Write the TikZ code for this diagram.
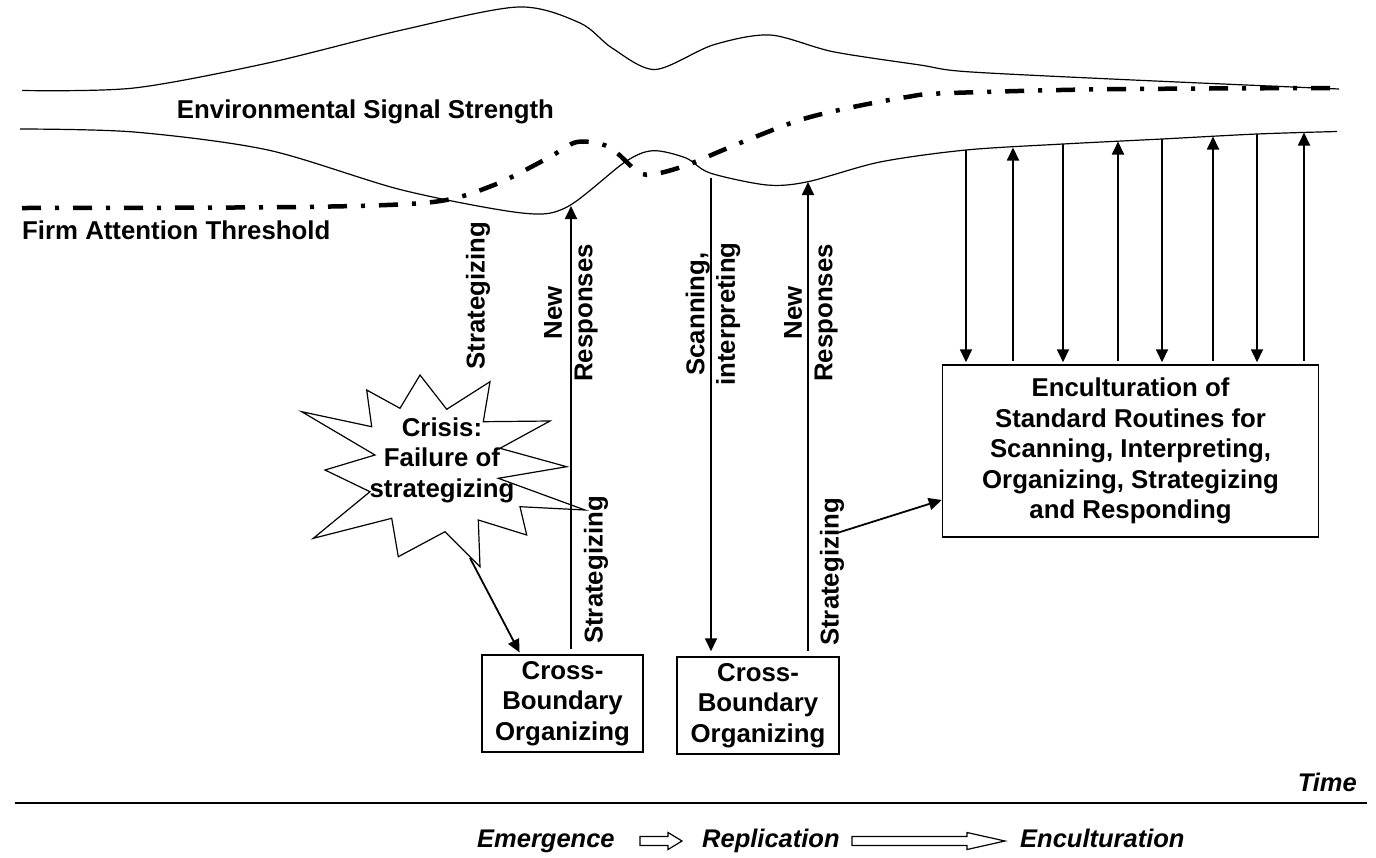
\documentclass[tikz,border=0pt]{standalone}
\usepackage{fontspec}
\setmainfont{Liberation Sans}
\usetikzlibrary{arrows.meta,positioning}

\tikzset{
  txt/.style={font=\fontsize{25.8}{30.5}\selectfont\bfseries, align=center, inner sep=0pt},
  era/.style={font=\fontsize{25.5}{30}\selectfont\bfseries\itshape, inner sep=0pt},
  curve/.style={line width=1.2pt},
  threshold/.style={line width=4.5pt, dash pattern=on 19pt off 14pt on 4pt off 14pt},
  box/.style={draw, line width=1.5pt},
  arr/.style={line width=1.8pt, -{Triangle[length=13pt,width=12pt]}},
}

\begin{document}
\begin{tikzpicture}[x=1pt,y=-1pt]
\useasboundingbox (0,0) rectangle (1376,857);
% Signal band
\draw[curve] plot[smooth] coordinates {(22,90.5) (134,88) (268,63) (402,30) (518,7) (580,23) (612,48) (655,69.5) (713,45) (770,35) (833,51.7) (920,65) (967,71.7) (1133,80) (1339,89)}; % upper edge
\draw[curve] plot[smooth] coordinates {(20,129) (134,132) (268,150) (402,190) (522,213) (567,207) (625,162) (653,150.7) (686,158) (710,173) (767,185) (808,181.7) (880,162) (966,150) (1063,144) (1162,139) (1257,134) (1337,131.5)}; % lower edge
% Threshold
\draw[threshold] plot[smooth] coordinates {(22,208) (300,207) (433,202) (494,185) (548,158) (577,142) (609,147) (638,172) (655,174) (687,165) (740,143) (800,120) (853,107) (907,97) (943,93.3) (1100,89.3) (1330,88)};
\node[txt, anchor=base] (signal) at (365.5,118.5) {Environmental Signal Strength};
\node[txt, anchor=base west] (thres) at (22,239.5) {Firm Attention Threshold};
% Crisis
\draw[curve, fill=white] (420,375) -- (446.7,409.3) -- (490,381.7) -- (483.3,421.7) -- (550,421) -- (500,448.3) -- (566.7,466.7) -- (498.3,478.3) -- (585,510) -- (520,506.7) -- (526.7,535) -- (478.3,520) -- (480,566.7) -- (445,531.7) -- (398.3,556.7) -- (391.7,518.3) -- (313.3,538.3) -- (370,491.7) -- (325,470) -- (375,455) -- (301.7,411.7) -- (371.7,426.7) -- (366.7,390) -- (400,408.3) -- cycle;
\node[txt] (crisis) at (442,460) {Crisis:\\Failure of\\strategizing};
\coordinate (crisis tip) at (470,558);
% Boxes
\node[box, txt, minimum width=161pt, minimum height=97pt] (cb1) at (562.5,703.5) {Cross-\\Boundary\\Organizing};
\node[box, txt, minimum width=162pt, minimum height=97pt] (cb2) at (758,705.5) {Cross-\\Boundary\\Organizing};
\node[box, txt, minimum width=376pt, minimum height=172pt] (encult box) at (1130.5,451) {Enculturation of\\Standard Routines for\\Scanning, Interpreting,\\Organizing, Strategizing\\and Responding};
% Arrows
\coordinate (nr1 top) at (571,206);
\coordinate (scan top) at (711,178);
\coordinate (nr2 top) at (808,182);
\coordinate (strat foot) at (837,533);
\draw[arr, shorten <=5pt] (cb1.north -| nr1 top) -- (nr1 top);
\draw[arr, shorten >=5pt] (scan top) -- (scan top |- cb2.north);
\draw[arr, shorten <=5pt] (cb2.north -| nr2 top) -- (nr2 top);
\draw[arr, shorten >=2pt] (crisis tip) -- ([xshift=-42pt]cb1.north);
\draw[arr] (strat foot) -- ([yshift=-49pt]encult box.west);
\foreach \x/\y in {966/150, 1063/144, 1162/139, 1257/134} {
  \coordinate (top) at (\x,\y);
  \draw[arr, shorten >=2pt] (top) -- (top |- encult box.north);
}
\foreach \x/\y in {1013/147.5, 1118/141.5, 1213/136.5, 1304/132.5} {
  \coordinate (top) at (\x,\y);
  \draw[arr, shorten <=3pt] (top |- encult box.north) -- (top);
}
% Arrow labels
\node[txt, rotate=90] (strat0) at (478,295.5) {Strategizing};
\node[txt, rotate=90] (nr1) at (571,313) {New\\Responses};
\node[txt, rotate=90] (strat1) at (596,570) {Strategizing};
\node[txt, rotate=90] (scan) at (713,314) {Scanning,\\interpreting};
\node[txt, rotate=90] (nr2) at (811,313) {New\\Responses};
\node[txt, rotate=90] (strat2) at (832,572) {Strategizing};
% Time axis
\coordinate (t0) at (15,803);
\coordinate (t1) at (1367,803);
\draw[line width=1.8pt] (t0) -- (t1);
\node[era, above left = 11pt and 10pt of t1] (time) {Time};
\node[era, anchor=base west] (emerg) at (477,847) {Emergence};
\node[era, anchor=base west] (repl) at (702,847) {Replication};
\node[era, anchor=base west] (encult) at (1020,847) {Enculturation};
\draw[curve] (640,836.5) -- (668,836.5) -- (668,832.5) -- (682,841) -- (668,849.5) -- (668,845.5) -- (640,845.5) -- cycle;
\draw[curve] (852,836.5) -- (967,836.5) -- (967,832.5) -- (1005,841) -- (967,849.5) -- (967,845.5) -- (852,845.5) -- cycle;
\end{tikzpicture}
\end{document}
